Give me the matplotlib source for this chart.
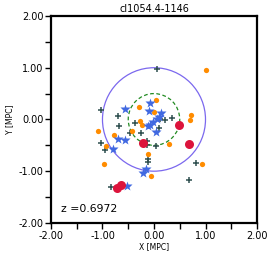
import matplotlib
matplotlib.use("Agg")
import matplotlib.pyplot as plt
from matplotlib.patches import Circle
from matplotlib.ticker import MultipleLocator, FormatStrFormatter

title = "cl1054.4-1146"
redshift_text = "z =0.6972"

cross_x = [0.05, -1.02, -0.69, -0.37, 0.11, 0.22, 0.35, -0.68, 0.09, -0.25, -0.47,
           -1.02, -0.13, -0.14, -0.95, 0.03, -0.11, -0.11, 0.82, 0.67, -0.83]
cross_y = [0.98, 0.19, 0.06, -0.06, 0.00, -0.02, 0.02, -0.13, -0.16, -0.26, -0.27,
           -0.45, -0.42, -0.50, -0.60, -0.51, -0.76, -0.83, -0.84, -1.17, -1.31]

star_x = [-0.56, -0.07, -0.10, 0.13, 0.09, 0.05, -0.02, -0.07, -0.12, 0.03,
          -0.70, -0.56, -0.79, -0.16, -0.21, -0.52]
star_y = [0.21, 0.31, 0.16, 0.13, 0.05, 0.00, -0.05, -0.10, -0.13, -0.25,
          -0.38, -0.39, -0.58, -0.96, -1.03, -1.28]

orange_x = [1.00, -0.29, 0.03, 0.00, 0.72, 0.70, -0.28, -0.23, -1.09, -0.43, -0.78,
            0.30, -0.93, -0.11, -0.98, 0.94, -0.05]
orange_y = [0.95, 0.25, 0.37, 0.15, 0.08, -0.02, -0.03, -0.10, -0.23, -0.22, -0.31,
            -0.47, -0.52, -0.67, -0.87, -0.87, -1.10]

red_x = [0.49, -0.21, 0.67, -0.65, -0.71]
red_y = [-0.10, -0.45, -0.47, -1.26, -1.33]

big_radius = 1.0
small_radius = 0.5

fig = plt.figure(figsize=(2.74, 2.58), dpi=100)
ax = fig.add_axes([0.186, 0.136, 0.752, 0.802])

ax.add_patch(Circle((0, 0), big_radius, fill=False, edgecolor="#7B68EE", lw=0.9))
ax.add_patch(Circle((0, 0), small_radius, fill=False, edgecolor="#228B22", lw=0.9, ls=(0, (3, 2))))

ax.plot(cross_x, cross_y, '+', color="#2F4F4F", ms=4, mew=1.1, ls='none')
ax.plot(orange_x, orange_y, 'o', color="#FF8C00", ms=3.8, mec='none', ls='none')
ax.plot(star_x, star_y, '*', color="#4169E1", ms=7, mec='none', ls='none')
ax.plot(red_x, red_y, 'o', color="#DC143C", ms=6.5, mec='none', ls='none')

ax.set_xlim(-2, 2)
ax.set_ylim(-2, 2)
ax.xaxis.set_major_locator(MultipleLocator(1))
ax.yaxis.set_major_locator(MultipleLocator(1))
ax.xaxis.set_minor_locator(MultipleLocator(0.5))
ax.yaxis.set_minor_locator(MultipleLocator(0.5))
ax.xaxis.set_major_formatter(FormatStrFormatter('%.2f'))
ax.yaxis.set_major_formatter(FormatStrFormatter('%.2f'))
ax.tick_params(which='both', direction='out', length=4, width=1, labelsize=7, pad=1.5)
for s in ax.spines.values():
    s.set_linewidth(1.6)

ax.set_title(title, fontsize=7, pad=3)
ax.set_xlabel("X [MPC]", fontsize=5.5, labelpad=1)
ax.set_ylabel("Y [MPC]", fontsize=5.5, labelpad=3)
ax.text(-1.8, -1.73, redshift_text, fontsize=7.8, va='center', ha='left')

fig.savefig("out.png", dpi=100)
